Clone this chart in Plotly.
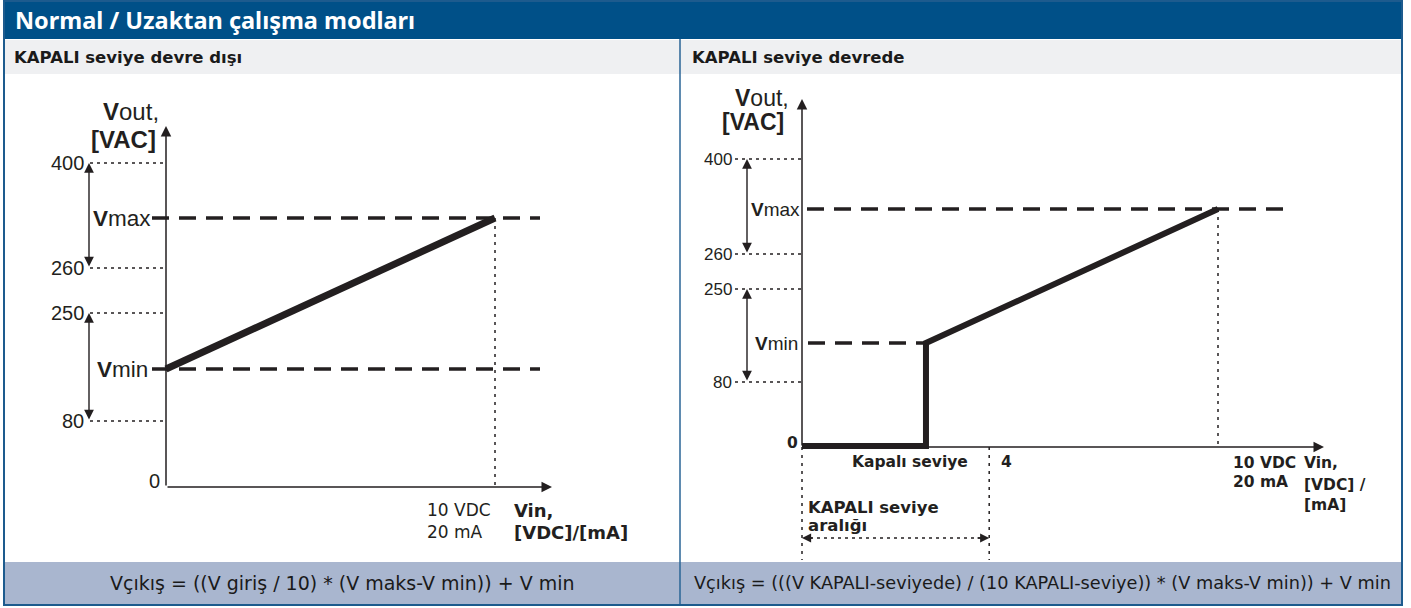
import plotly.graph_objects as go

# ---------------- data (schematic diagram values) ----------------
title_text = "Normal / Uzaktan çalışma modları"
panel_titles = ["KAPALI seviye devre dışı", "KAPALI seviye devrede"]
formulas = ["Vçıkış = ((V giriş / 10) * (V maks-V min)) + V min",
            "Vçıkış = (((V KAPALI-seviyede) / (10 KAPALI-seviye)) * (V maks-V min)) + V min"]

tick_labels = ["80", "250", "260", "400"]
# schematic heights of the tick levels above the Vin axis (drawing units)
left_tick_y = [66, 174, 219, 324]
right_tick_y = [65, 158, 193, 288]
left_vmin, left_vmax = 118, 269
right_vmin, right_vmax = 104, 238

vin_full = 10            # 10 VDC / 20 mA
kapali_seviye_x = 2.98   # schematic position of the OFF level step
off_range_end_x = 4.5    # schematic position of the "4" mark

# ---------------- geometry helpers ----------------
W, H = 1411, 608
INK = "#231f20"
BLUE = "#005088"

L_X0, L_SX, L_Y0 = 166, 32.9, 487
R_X0, R_SX, R_Y0 = 802, 41.6, 447
TOP, BOT, DIV = 74, 562, 680


def lx(px): return (px - L_X0) / L_SX
def ly(py): return L_Y0 - py
def rx(px): return (px - R_X0) / R_SX
def ry(py): return R_Y0 - py
def pxp(px): return px / W
def pyp(py): return 1 - py / H


fig = go.Figure()
annotations = []
shapes = []


def line(xs, ys, sub, width=1.5, dash="solid", color=INK):
    fig.add_trace(go.Scatter(x=xs, y=ys, mode="lines", xaxis="x" if sub == 1 else "x2",
                             yaxis="y" if sub == 1 else "y2",
                             line=dict(color=color, width=width, dash=dash),
                             hoverinfo="skip", showlegend=False))


def arrow(x, y, ax, ay, sub, both=False, width=1.4, size=1.4):
    xr = "x" if sub == 1 else "x2"
    yr = "y" if sub == 1 else "y2"
    a = dict(x=x, y=y, ax=ax, ay=ay, xref=xr, yref=yr, axref=xr, ayref=yr,
             text="", showarrow=True, arrowhead=2, arrowsize=size, arrowwidth=width,
             arrowcolor=INK, standoff=0)
    if both:
        a.update(arrowside="end+start", startarrowhead=2, startarrowsize=size, startstandoff=0)
    annotations.append(a)


def text(x, y, s, sub, size=16, family="DejaVu Sans", anchor="left", color=INK):
    xr = "x" if sub == 1 else "x2"
    yr = "y" if sub == 1 else "y2"
    annotations.append(dict(x=x, y=y, xref=xr, yref=yr, text=s, showarrow=False,
                            xanchor=anchor, yanchor="middle",
                            font=dict(family=family, size=size, color=color)))


ARIAL = "Liberation Sans, Arial"
VERD = "DejaVu Sans, Verdana"
DOT_H = "3px,4px"
DOT_V = "3px,5px"
DASH = "17px,10px"

# ================= LEFT PANEL =================
arrow(0, ly(126), 0, 0, 1, width=1.5, size=1.4)
arrow(lx(552), 0, 0, 0, 1, width=1.5, size=1.4)
for lab, yv in zip(tick_labels, left_tick_y):
    line([lx(90), 0], [yv, yv], 1, width=1.4, dash=DOT_H)
    text(lx(86), yv, lab, 1, size=20, family=ARIAL, anchor="right")
text(lx(162), ly(481), "0", 1, size=20, family=ARIAL, anchor="right")
arrow(lx(89), left_tick_y[3], lx(89), left_tick_y[2], 1, both=True)
arrow(lx(89), left_tick_y[1], lx(89), left_tick_y[0], 1, both=True)
line([lx(152), lx(540)], [left_vmax, left_vmax], 1, width=3.5, dash=DASH)
line([lx(152), lx(540)], [left_vmin, left_vmin], 1, width=3.5, dash=DASH)
text(lx(153), left_vmax, "<b>V</b>max", 1, size=22.5, family=ARIAL, anchor="right")
text(lx(150), left_vmin, "<b>V</b>min", 1, size=22.5, family=ARIAL, anchor="right")
line([vin_full, vin_full], [left_vmax, 0], 1, width=1.5, dash=DOT_V)
line([0, vin_full], [left_vmin, left_vmax], 1, width=7)
text(lx(161), ly(111), "<b>V</b>out,", 1, size=24, family=ARIAL, anchor="right")
text(lx(158), ly(139), "<b>[VAC]</b>", 1, size=24, family=ARIAL, anchor="right")
text(lx(425), ly(510), "10 VDC", 1, size=17, family=VERD)
text(lx(425), ly(532), "20 mA", 1, size=17, family=VERD)
text(lx(512), ly(510), "<b>Vin,</b>", 1, size=18, family=VERD)
text(lx(512), ly(532), "<b>[VDC]/[mA]</b>", 1, size=18, family=VERD)

# ================= RIGHT PANEL =================
arrow(0, ry(99), 0, 0, 2, width=1.5, size=1.4)
arrow(rx(1324), 0, 0, 0, 2, width=1.5, size=1.4)
for lab, yv in zip(tick_labels, right_tick_y):
    line([rx(735), 0], [yv, yv], 2, width=1.4, dash=DOT_H)
    text(rx(734), yv, lab, 2, size=17, family=ARIAL, anchor="right")
text(rx(800), ry(443), "<b>0</b>", 2, size=15.5, family=VERD, anchor="right")
arrow(rx(747), right_tick_y[3], rx(747), right_tick_y[2], 2, both=True)
arrow(rx(747), right_tick_y[1], rx(747), right_tick_y[0], 2, both=True)
line([rx(807), rx(1283)], [right_vmax, right_vmax], 2, width=3.5, dash=DASH)
line([rx(808), kapali_seviye_x], [right_vmin, right_vmin], 2, width=3.5, dash=DASH)
text(rx(802), right_vmax, "<b>V</b>max", 2, size=19, family=ARIAL, anchor="right")
text(rx(800), right_vmin, "<b>V</b>min", 2, size=19, family=ARIAL, anchor="right")
line([vin_full, vin_full], [right_vmax, 0], 2, width=1.5, dash=DOT_V)
line([0, 0], [0, ry(560)], 2, width=1.5, dash=DOT_V)
line([off_range_end_x, off_range_end_x], [0, ry(560)], 2, width=1.5, dash=DOT_V)
line([rx(810), rx(981)], [ry(538), ry(538)], 2, width=1.5, dash=DOT_H)
arrow(0, ry(538), rx(814), ry(538), 2, width=1.4, size=1.3)
arrow(off_range_end_x, ry(538), rx(976), ry(538), 2, width=1.4, size=1.3)
line([0, kapali_seviye_x, kapali_seviye_x, vin_full],
     [ry(446), ry(446), right_vmin, right_vmax], 2, width=6)
text(rx(791), ry(98), "<b>V</b>out,", 2, size=23, family=ARIAL, anchor="right")
text(rx(786), ry(122), "<b>[VAC]</b>", 2, size=23, family=ARIAL, anchor="right")
text(rx(850), ry(462), "<b>Kapalı seviye</b>", 2, size=15.5, family=VERD)
text(rx(999), ry(462), "<b>4</b>", 2, size=15.5, family=VERD)
text(rx(1231), ry(463), "<b>10 VDC</b>", 2, size=15.5, family=VERD)
text(rx(1231), ry(482), "<b>20 mA</b>", 2, size=15.5, family=VERD)
text(rx(1302), ry(463), "<b>Vin,</b>", 2, size=15.5, family=VERD)
text(rx(1302), ry(485), "<b>[VDC] /</b>", 2, size=15.5, family=VERD)
text(rx(1302), ry(505), "<b>[mA]</b>", 2, size=15.5, family=VERD)
text(rx(806), ry(507), "<b>KAPALI seviye</b>", 2, size=16.5, family=VERD)
text(rx(806), ry(525), "<b>aralığı</b>", 2, size=16.5, family=VERD)

# ================= FRAME / BANDS =================
FX0, FX1, FY1 = 4, 1402, 605
shapes.append(dict(type="rect", xref="paper", yref="paper", layer="below",
                   x0=pxp(FX0), x1=pxp(FX1), y0=pyp(0), y1=pyp(39),
                   fillcolor=BLUE, line=dict(width=0)))
shapes.append(dict(type="rect", xref="paper", yref="paper", layer="below",
                   x0=pxp(FX0), x1=pxp(FX1), y0=pyp(40), y1=pyp(TOP),
                   fillcolor="#eff0f2", line=dict(width=0)))
shapes.append(dict(type="rect", xref="paper", yref="paper", layer="below",
                   x0=pxp(FX0), x1=pxp(FX1), y0=pyp(BOT), y1=pyp(FY1),
                   fillcolor="#a9b6cf", line=dict(width=0)))
shapes.append(dict(type="line", xref="paper", yref="paper",
                   x0=pxp(DIV), x1=pxp(DIV), y0=pyp(39), y1=pyp(FY1),
                   line=dict(color="#2a6596", width=1.5)))
shapes.append(dict(type="rect", xref="paper", yref="paper",
                   x0=pxp(FX0), x1=pxp(FX1), y0=pyp(1), y1=pyp(FY1),
                   fillcolor="rgba(0,0,0,0)", line=dict(color="#1d5b8e", width=2)))

annotations.append(dict(x=pxp(13), y=pyp(20), xref="paper", yref="paper", text="<b>" + title_text + "</b>",
                        showarrow=False, xanchor="left", yanchor="middle",
                        font=dict(family="Noto Sans", size=23.5, color="white")))
for px_, t in zip([12, 690], panel_titles):
    annotations.append(dict(x=pxp(px_), y=pyp(57), xref="paper", yref="paper", text="<b>" + t + "</b>",
                            showarrow=False, xanchor="left", yanchor="middle",
                            font=dict(family="DejaVu Sans", size=16.5, color="#1a1a1a")))
for px_, t, fs in zip([342, 1042], formulas, [19, 17.7]):
    annotations.append(dict(x=pxp(px_), y=pyp(583), xref="paper", yref="paper", text=t,
                            showarrow=False, xanchor="center", yanchor="middle",
                            font=dict(family="DejaVu Sans", size=fs, color="#1a1a1a")))

ax_common = dict(visible=False, showgrid=False, zeroline=False, fixedrange=True)
fig.update_layout(
    width=W, height=H, margin=dict(l=0, r=0, t=0, b=0),
    paper_bgcolor="white", plot_bgcolor="rgba(0,0,0,0)",
    showlegend=False,
    xaxis=dict(domain=[0, pxp(DIV)], range=[lx(0), lx(DIV)], **ax_common),
    yaxis=dict(domain=[pyp(BOT), pyp(TOP)], range=[ly(BOT), ly(TOP)], **ax_common),
    xaxis2=dict(domain=[pxp(DIV), 1], range=[rx(DIV), rx(W)], anchor="y2", **ax_common),
    yaxis2=dict(domain=[pyp(BOT), pyp(TOP)], range=[ry(BOT), ry(TOP)], anchor="x2", **ax_common),
    shapes=shapes, annotations=annotations,
)

fig.write_html("out.html", config={"displayModeBar": False},
               post_script="document.body.style.margin='0px';document.body.style.overflow='hidden';")
